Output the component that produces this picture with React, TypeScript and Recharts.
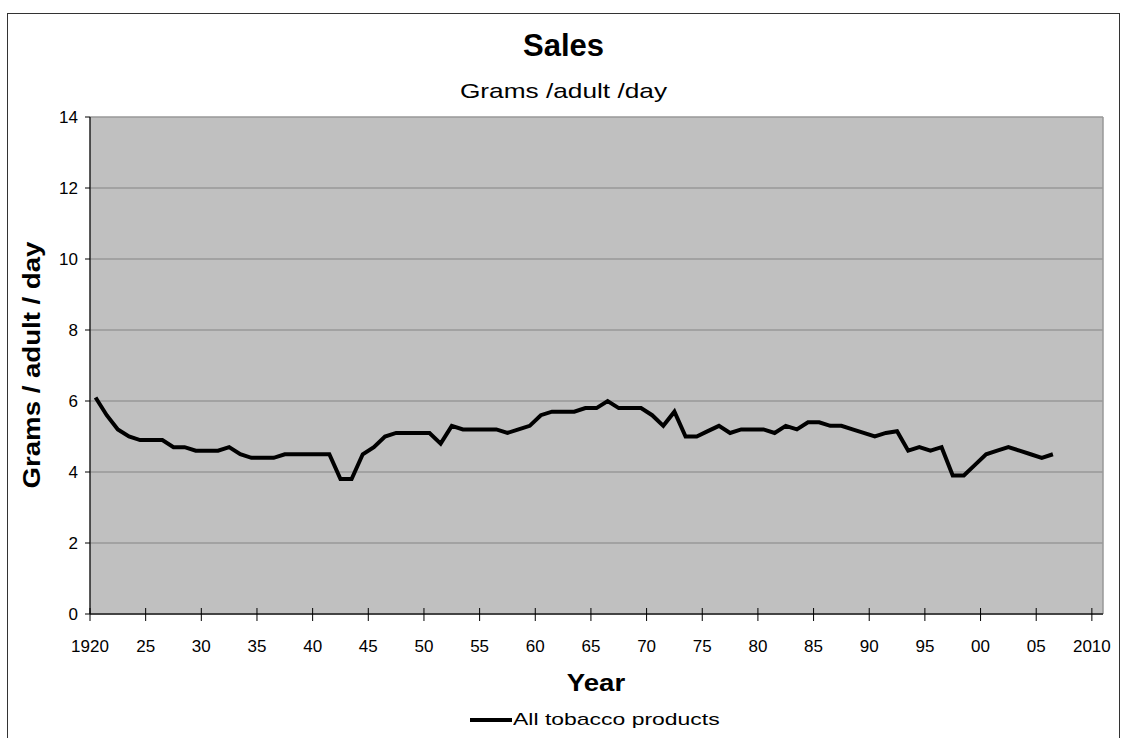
import React from 'react'
import { LineChart, Line, XAxis, YAxis, CartesianGrid, Legend } from 'recharts'

// one value per year, 1920 - 2006
const years = [
  1920, 1921, 1922, 1923, 1924, 1925, 1926, 1927, 1928, 1929,
  1930, 1931, 1932, 1933, 1934, 1935, 1936, 1937, 1938, 1939,
  1940, 1941, 1942, 1943, 1944, 1945, 1946, 1947, 1948, 1949,
  1950, 1951, 1952, 1953, 1954, 1955, 1956, 1957, 1958, 1959,
  1960, 1961, 1962, 1963, 1964, 1965, 1966, 1967, 1968, 1969,
  1970, 1971, 1972, 1973, 1974, 1975, 1976, 1977, 1978, 1979,
  1980, 1981, 1982, 1983, 1984, 1985, 1986, 1987, 1988, 1989,
  1990, 1991, 1992, 1993, 1994, 1995, 1996, 1997, 1998, 1999,
  2000, 2001, 2002, 2003, 2004, 2005, 2006,
]

const allTobacco = [
  6.1, 5.6, 5.2, 5.0, 4.9, 4.9, 4.9, 4.7, 4.7, 4.6,
  4.6, 4.6, 4.7, 4.5, 4.4, 4.4, 4.4, 4.5, 4.5, 4.5,
  4.5, 4.5, 3.8, 3.8, 4.5, 4.7, 5.0, 5.1, 5.1, 5.1,
  5.1, 4.8, 5.3, 5.2, 5.2, 5.2, 5.2, 5.1, 5.2, 5.3,
  5.6, 5.7, 5.7, 5.7, 5.8, 5.8, 6.0, 5.8, 5.8, 5.8,
  5.6, 5.3, 5.7, 5.0, 5.0, 5.15, 5.3, 5.1, 5.2, 5.2,
  5.2, 5.1, 5.3, 5.2, 5.4, 5.4, 5.3, 5.3, 5.2, 5.1,
  5.0, 5.1, 5.15, 4.6, 4.7, 4.6, 4.7, 3.9, 3.9, 4.2,
  4.5, 4.6, 4.7, 4.6, 4.5, 4.4, 4.5,
]

const xTicks = [1920, 1925, 1930, 1935, 1940, 1945, 1950, 1955, 1960, 1965, 1970, 1975, 1980, 1985, 1990, 1995, 2000, 2005, 2010]
const yTicks = [0, 2, 4, 6, 8, 10, 12, 14]

// points sit in the middle of each year
const data = years.map((y, i) => ({ year: y + 0.5, value: allTobacco[i] }))

const font = "Arial, 'Liberation Sans', sans-serif"

const yearLabel = (v: number) => (v === 1920 || v === 2010 ? String(v) : String(v).slice(2))

function XTick(props: any) {
  const { x, y, payload } = props
  return (
    <g>
      <line x1={x} x2={x} y1={y - 6} y2={y + 7} stroke="#000" strokeWidth={1} />
      <text x={x} y={y + 38} textAnchor="middle" fontSize={17} fontFamily={font} fill="#000">
        {yearLabel(payload.value)}
      </text>
    </g>
  )
}

function LegendContent() {
  return (
    <div style={{ display: 'flex', alignItems: 'center', fontFamily: font, fontSize: 17, color: '#000', whiteSpace: 'nowrap' }}>
      <span style={{ display: 'inline-block', width: 42, height: 4, background: '#000', marginRight: 1 }} />
      <span style={{ display: 'inline-block', transform: 'scaleX(1.35)', transformOrigin: 'left center' }}>All tobacco products</span>
    </div>
  )
}

export default function App() {
  return (
    <div style={{ position: 'absolute', left: 0, top: 0, width: 1121, height: 738, overflow: 'hidden', background: '#fff' }}>
      <div style={{ position: 'absolute', left: 7, top: 13, width: 1111, height: 740, borderLeft: '1.5px solid #333', borderTop: '1.5px solid #333', borderRight: '1.5px solid #333' }} />
      <div style={{ position: 'absolute', left: 7, width: 1113, top: 28, textAlign: 'center', fontFamily: font, fontWeight: 'bold', fontSize: 31 }}>Sales</div>
      <div style={{ position: 'absolute', left: 7, width: 1113, top: 79, textAlign: 'center', fontFamily: font, fontSize: 21, transform: 'scaleX(1.25)', transformOrigin: 'center' }}>Grams /adult /day</div>
      <div style={{ position: 'absolute', left: 0, top: 0 }}>
        <LineChart width={1121} height={738} data={data} margin={{ top: 117, right: 18, bottom: 44, left: 0 }}>
          <CartesianGrid
            fill="#C0C0C0"
            stroke="#999"
            strokeWidth={1.5}
            vertical
            verticalCoordinatesGenerator={({ offset }: any) => [offset.left + offset.width]}
          />
          <XAxis
            dataKey="year"
            type="number"
            domain={[1920, 2011]}
            ticks={xTicks}
            interval={0}
            height={80}
            tickLine={false}
            tickSize={0}
            tickMargin={0}
            tick={<XTick />}
            axisLine={{ stroke: '#222', strokeWidth: 1.5 }}
            label={() => (
              <text transform="translate(596 691) scale(1.2 1)" textAnchor="middle" fontSize={23} fontWeight="bold" fontFamily={font} fill="#000">
                Year
              </text>
            )}
          />
          <YAxis
            domain={[0, 14]}
            ticks={yTicks}
            interval={0}
            width={90}
            tickSize={5}
            tickMargin={7}
            tickLine={{ stroke: '#000' }}
            axisLine={{ stroke: '#222', strokeWidth: 1.5 }}
            tick={{ fontSize: 17, fontFamily: font, fill: '#000' }}
            label={() => (
              <text transform="translate(40 365) rotate(-90) scale(1.2 1)" textAnchor="middle" fontSize={23} fontWeight="bold" fontFamily={font} fill="#000">
                Grams / adult / day
              </text>
            )}
          />
          <Legend
            layout="horizontal"
            verticalAlign="middle"
            align="center"
            content={<LegendContent />}
            wrapperStyle={{ top: 710, left: 470, width: 320 }}
          />
          <Line
            type="linear"
            dataKey="value"
            stroke="#000"
            strokeWidth={4}
            dot={false}
            isAnimationActive={false}
            name="All tobacco products"
          />
        </LineChart>
      </div>
    </div>
  )
}
